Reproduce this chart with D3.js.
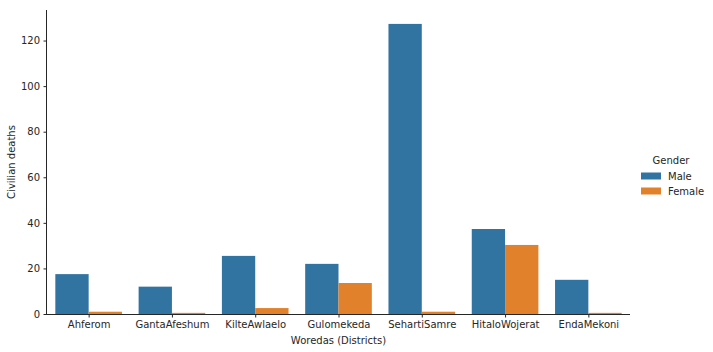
<!DOCTYPE html>
<html>
<head>
<meta charset="utf-8">
<script src="https://cdn.jsdelivr.net/npm/d3@7"></script>
<style>
  body { margin: 0; background: #fff; }
  text { font-family: "DejaVu Sans", sans-serif; fill: #262626; }
</style>
</head>
<body>
<div id="chart"></div>
<script>
var woredas = ["Ahferom", "GantaAfeshum", "KilteAwlaelo", "Gulomekeda", "SehartiSamre", "HitaloWojerat", "EndaMekoni"];
var genders = ["Male", "Female"];
var maleDeaths = [17.5, 12, 25.5, 22, 127.3, 37.3, 15];
var femaleDeaths = [1, 0.5, 2.6, 13.6, 1, 30.3, 0.5];
var yTicks = [0, 20, 40, 60, 80, 100, 120];
var colors = {"Male": "#3274a1", "Female": "#e1812c"};

var margin = {top: 10, right: 83, bottom: 38, left: 47};
var width = 713 - margin.left - margin.right, height = 352 - margin.top - margin.bottom;

var svg = d3.select("#chart")
  .append("svg")
    .attr("width", width + margin.left + margin.right)
    .attr("height", height + margin.top + margin.bottom)
  .append("g")
    .attr("transform", "translate(" + margin.left + "," + margin.top + ")");

var data = [];
for (var i = 0; i < woredas.length; i++) {
  data.push({woreda: woredas[i], gender: "Male", value: maleDeaths[i]});
  data.push({woreda: woredas[i], gender: "Female", value: femaleDeaths[i]});
}

var x = d3.scaleBand().domain(woredas).range([0, width]).paddingInner(0.2).paddingOuter(0.1);
var xs = d3.scaleBand().domain(genders).range([0, x.bandwidth()]);
var y = d3.scaleLinear().domain([0, 133.4]).range([height, 0]);

// bars
svg.append("g").selectAll("rect")
  .data(data)
  .enter()
  .append("rect")
    .attr("x", function(d) { return x(d.woreda) + xs(d.gender); })
    .attr("y", function(d) { return y(d.value); })
    .attr("width", xs.bandwidth())
    .attr("height", function(d) { return height - y(d.value); })
    .attr("fill", function(d) { return colors[d.gender]; });

// axes
var xAxis = svg.append("g")
  .attr("transform", "translate(0," + height + ")")
  .call(d3.axisBottom(d3.scalePoint().domain(woredas).range([x(woredas[0]) + x.bandwidth() / 2, x(woredas[woredas.length - 1]) + x.bandwidth() / 2])).tickSize(3.5).tickPadding(3.5));
xAxis.select(".domain").attr("d", "M0,0.5H" + width).attr("stroke", "#262626");

var yAxis = svg.append("g")
  .call(d3.axisLeft(y).tickValues(yTicks).tickSize(3.5).tickPadding(3.5));
yAxis.select(".domain").attr("d", "M-0.5," + height + "V0").attr("stroke", "#262626");

svg.selectAll(".tick line").attr("stroke", "#262626");
svg.selectAll(".tick text").attr("font-size", "10px").attr("font-family", "DejaVu Sans").attr("fill", "#262626");

// axis labels
svg.append("text")
  .attr("x", width / 2)
  .attr("y", height + 30)
  .style("text-anchor", "middle")
  .attr("font-size", "10px")
  .text("Woredas (Districts)");

svg.append("text")
  .attr("transform", "rotate(-90)")
  .attr("x", 0 - (height / 2))
  .attr("y", 0 - margin.left + 15)
  .style("text-anchor", "middle")
  .attr("font-size", "10px")
  .text("Civilian deaths");

// legend
var legend = svg.append("g").attr("transform", "translate(" + (width + 9) + ",150)");
legend.append("text")
  .attr("x", 32).attr("y", 0).attr("dy", "0.35em")
  .style("text-anchor", "middle")
  .attr("font-size", "10px")
  .text("Gender");
legend.selectAll("g.item").data(genders).enter().append("g")
  .attr("class", "item")
  .attr("transform", function(d, i) { return "translate(0," + (16 + i * 15) + ")"; })
  .each(function(d) {
    d3.select(this).append("rect").attr("x", 2).attr("y", -3.5).attr("width", 20).attr("height", 7)
      .attr("fill", colors[d]);
    d3.select(this).append("text").attr("x", 29).attr("y", 0).attr("dy", "0.35em")
      .attr("font-size", "10px").text(d);
  });
</script>
</body>
</html>
